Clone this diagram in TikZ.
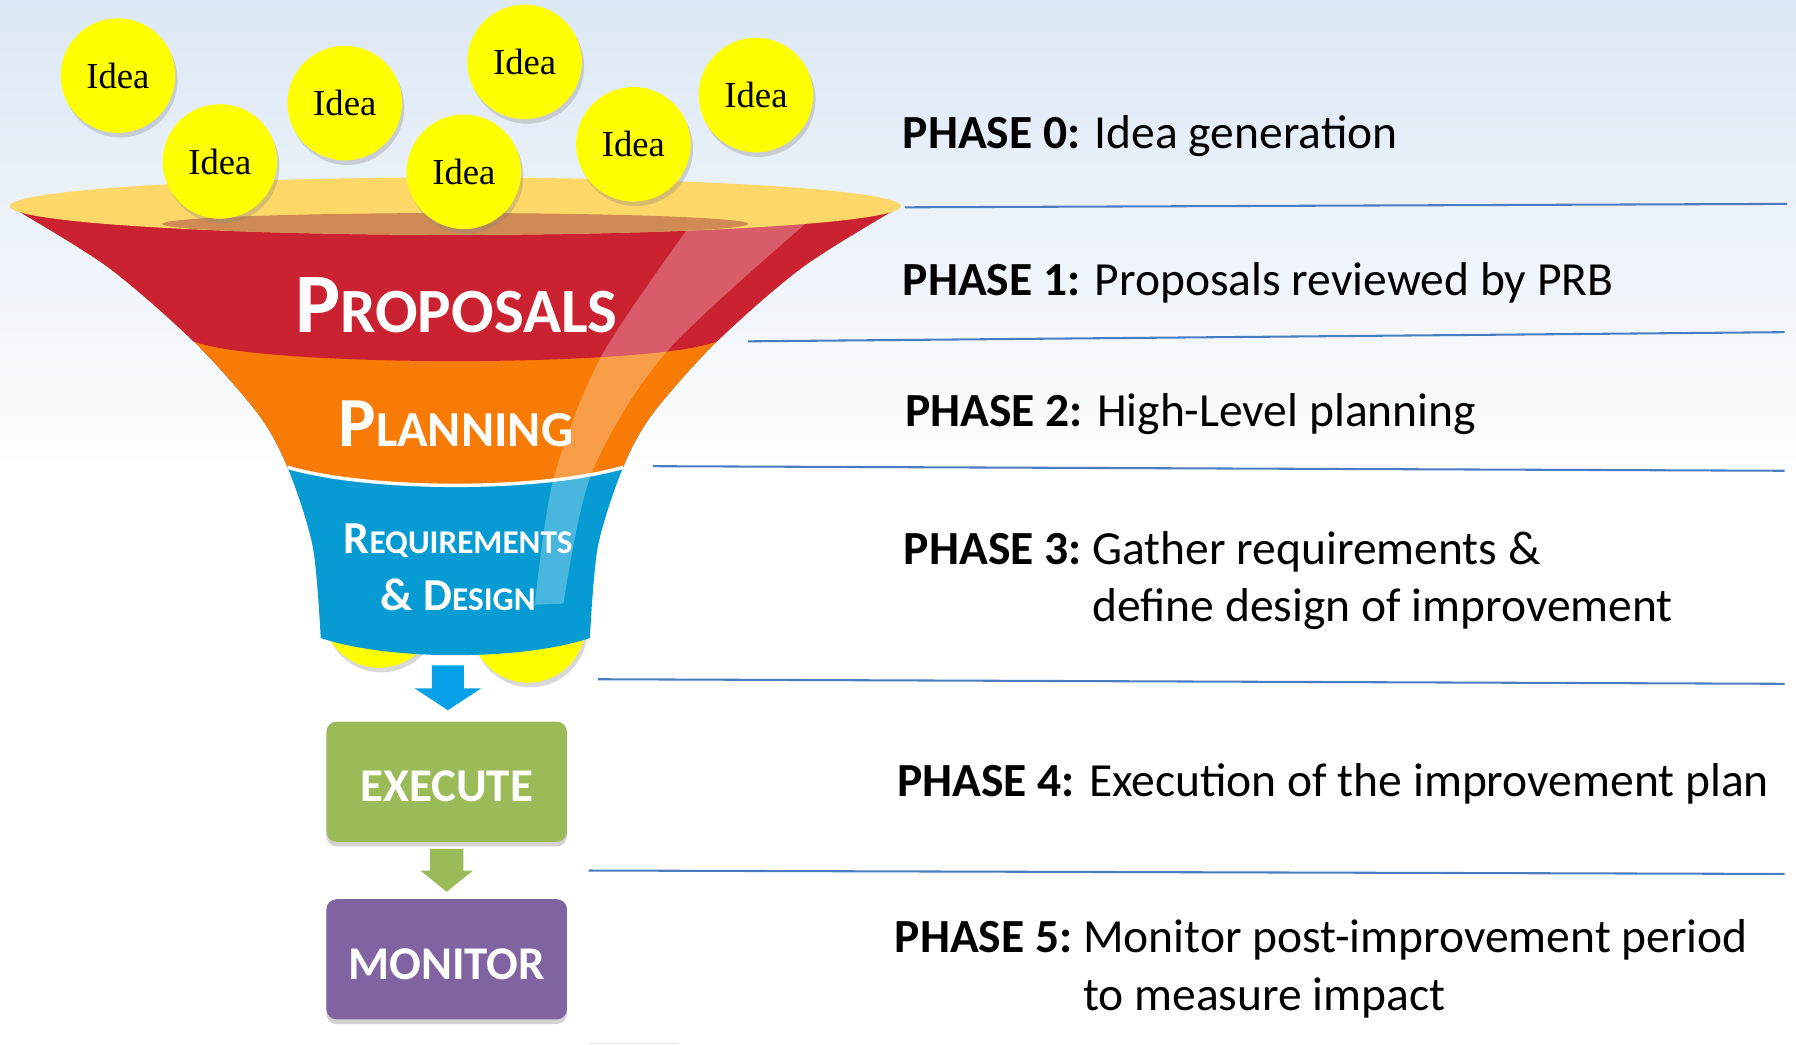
\documentclass[tikz,border=0pt]{standalone}
\usepackage{fontspec}
\setmainfont{Carlito}
\newfontfamily\ideafont{Liberation Serif}
\usetikzlibrary{shadows}
\definecolor{bgtop}{HTML}{DCE8F5}
\definecolor{sepblue}{HTML}{4A7CC2}
\definecolor{fred}{HTML}{CB2232}
\definecolor{forange}{HTML}{F77B05}
\definecolor{fblue}{HTML}{069BD3}
\definecolor{rimc}{HTML}{FDD768}
\definecolor{rimdark}{HTML}{D08B55}
\definecolor{ideay}{HTML}{FFFF00}
\definecolor{arrowblue}{HTML}{05A0E8}
\definecolor{exgreen}{HTML}{9BBB59}
\definecolor{monpurple}{HTML}{8064A2}
\definecolor{faintline}{HTML}{D5E2F0}
\tikzset{
  idea/.style={circle, fill=ideay, minimum size=100pt, inner sep=0pt,
    font=\ideafont\fontsize{32}{32}\selectfont,
    drop shadow={shadow xshift=2pt, shadow yshift=-4pt, opacity=.3}},
  sepline/.style={draw=sepblue, line width=1.8pt},
  phase/.style={anchor=base west, inner sep=0pt, font=\fontsize{41.5}{50}\selectfont},
  ftext/.style={anchor=base, inner sep=0pt, text=white, font=\bfseries},
  stagebox/.style={rounded corners=9pt, minimum width=210pt, minimum height=105pt, inner sep=0pt,
    drop shadow={shadow xshift=0pt, shadow yshift=-4pt, opacity=.35}},
  boxtext/.style={anchor=base, inner sep=0pt, text=white, font=\bfseries\fontsize{41}{41}\selectfont}
}
\begin{document}
\begin{tikzpicture}[x=1pt,y=-1pt]
\useasboundingbox (0,0) rectangle (1568,912);
% background
\fill[white] (0,0) rectangle (1568,912);
\shade[top color=bgtop, bottom color=white] (0,0) rectangle (1568,430);

% separator lines
\draw[sepline] (790,181) -- (1560,178);
\draw[sepline] (653,298) -- (1558,290);
\draw[sepline] (570,407) -- (1558,411);
\draw[sepline] (522,593) -- (1558,597);
\draw[sepline] (514,760) -- (1558,763);
\draw[draw=faintline, line width=1.5pt] (514,911) -- (592,911);

% ideas hidden under the funnel
\node[idea] (h1) at (331,533) {};
\node[idea] (h2) at (461,546) {};

% funnel body
\begin{scope}
  \clip (12,182) -- plot[smooth] coordinates {(12,182) (94,233) (169,298) (225,361) (251,408) (273,477) (280,557)}
        .. controls (339,577) and (456,577) .. (515,557)
        -- plot[smooth] coordinates {(515,557) (522,477) (544,408) (570,361) (626,298) (701,233) (783,182)}
        -- cycle;
  \fill[fblue] (0,100) rectangle (800,600);
  \fill[forange] (0,100) -- (800,100) -- (800,408) -- (544,408)
        .. controls (471,429) and (324,429) .. (251,408) -- (0,408) -- cycle;
  \fill[fred] (0,100) -- (800,100) -- (800,298) -- (626,298)
        .. controls (569,321) and (226,321) .. (169,298) -- (0,298) -- cycle;
  \draw[white, line width=3pt] (544,408) .. controls (471,429) and (324,429) .. (251,408);
  \fill[white, opacity=.27] plot[smooth] coordinates {(606,192) (525,311) (483,419) (467,528)}
        -- plot[smooth] coordinates {(492,527) (516.6,413) (582,307) (714,186)} -- cycle;
\end{scope}

% rim
\fill[rimc] (397.5,180) ellipse [x radius=389pt, y radius=25pt];
\begin{scope}
  \clip (397.5,180) ellipse [x radius=389pt, y radius=25pt];
  \fill[rimdark] (397.5,195.5) ellipse [x radius=256pt, y radius=9.5pt];
\end{scope}

% ideas
\node[idea] (i1) at (103,66) {Idea};
\node[idea] (i2) at (192,141) {Idea};
\node[idea] (i3) at (301,90) {Idea};
\node[idea] (i4) at (458,54) {Idea};
\node[idea] (i5) at (405,150) {Idea};
\node[idea] (i6) at (553,126) {Idea};
\node[idea] (i7) at (660,83) {Idea};

% funnel labels
\node[ftext] (tprop) at (398.5,290) {\fontsize{74}{74}\selectfont P\fontsize{55}{55}\selectfont ROPOSALS};
\node[ftext] (tplan) at (398,390) {\fontsize{61.5}{61.5}\selectfont P\fontsize{44}{44}\selectfont LANNING};
\node[ftext] (treq) at (400,483) {\fontsize{40}{40}\selectfont R\fontsize{29}{29}\selectfont EQUIREMENTS};
\node[ftext] (tdes) at (400,533) {\fontsize{40}{40}\selectfont \& D\fontsize{29}{29}\selectfont ESIGN};

% block arrows
\fill[arrowblue] (377,581) -- (405,581) -- (405,601) -- (420,601) -- (391,620) -- (362,601) -- (377,601) -- cycle;
\fill[exgreen] (375.5,741) -- (404.5,741) -- (404.5,760) -- (413,760) -- (390,778.5) -- (367,760) -- (375.5,760) -- cycle;

% boxes
\node[stagebox, fill=exgreen] (ex) at (390,682.5) {};
\node[boxtext] (extext) at (390,700) {EXECUTE};
\node[stagebox, fill=monpurple] (mon) at (390,837.5) {};
\node[boxtext] (montext) at (390,855) {MONITOR};

% phase texts
\node[phase] (p0) at (788,130) {\textbf{PHASE 0:} Idea generation};
\node[phase] (p1) at (788,258) {\textbf{PHASE 1:} Proposals reviewed by PRB};
\node[phase] (p2) at (790,372) {\textbf{PHASE 2:} High-Level planning};
\node[phase] (p3) at (789,493) {\begin{tabular}[t]{@{}l@{\ }l@{}}\textbf{PHASE 3:} & Gather requirements \&\\ & define design of improvement\end{tabular}};
\node[phase] (p4) at (783,695) {\textbf{PHASE 4:} Execution of the improvement plan};
\node[phase] (p5) at (781,832) {\begin{tabular}[t]{@{}l@{\ }l@{}}\textbf{PHASE 5:} & Monitor post-improvement period\\ & to measure impact\end{tabular}};
\end{tikzpicture}
\end{document}
